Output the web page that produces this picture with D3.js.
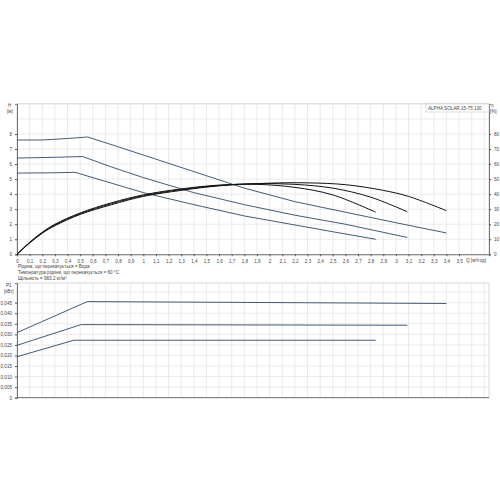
<!DOCTYPE html>
<html><head><meta charset="utf-8">
<script src="https://cdn.jsdelivr.net/npm/d3@7"></script>
<style>body{margin:0;background:#fff}text{font-family:"Liberation Sans",Arial,sans-serif;fill:#444}</style>
</head><body><svg id="c" width="500" height="500"></svg>
<script>
const qTicks = d3.range(0, 36).map(i => i / 10);
const hTicks = [0,1,2,3,4,5,6,7,8];
const etaTicks = [0,10,20,30,40,50,60,70,80];
const pTicks = [0,0.005,0.01,0.015,0.02,0.025,0.03,0.035,0.04,0.045];
const headQ1 = [0,0.2,0.4,0.56,0.8,1.0,1.4,1.8,2.2,2.6,3.0,3.4];
const headH1 = [7.6,7.6,7.7,7.8,7.15,6.6,5.5,4.4,3.5,2.8,2.1,1.42];
const headQ2 = [0,0.3,0.52,0.75,1.0,1.4,1.8,2.2,2.6,3.09];
const headH2 = [6.4,6.45,6.5,5.8,5.1,4.1,3.3,2.6,2.0,1.12];
const headQ3 = [0,0.3,0.46,0.8,1.0,1.4,1.8,2.2,2.5,2.84];
const headH3 = [5.4,5.42,5.45,4.6,4.1,3.3,2.55,1.95,1.5,1.0];
const etaQ1 = [0,0.1,0.2,0.3,0.5,0.75,1.0,1.3,1.6,2.0,2.3,2.6,2.9,3.1,3.4];
const eta1 = [0,7.5,14,19,26.5,33,38.5,42.5,45.5,47.3,47.5,46.3,42.5,38.5,29];
const etaQ2 = [0,0.1,0.2,0.3,0.5,0.75,1.0,1.3,1.6,1.9,2.2,2.5,2.8,3.09];
const eta2 = [0,7.7,14.3,19.5,27,33.7,39,43,45.8,47,46.5,44,38,28.3];
const etaQ3 = [0,0.1,0.2,0.3,0.5,0.75,1.0,1.3,1.6,1.9,2.2,2.5,2.84];
const eta3 = [0,8,14.7,20,27.5,34.3,39.5,43.5,46,46.5,44.5,39.5,28];
const pQ1 = [0,0.557,3.40], pP1 = [0.0308,0.0455,0.0446];
const pQ2 = [0,0.507,3.09], pP2 = [0.0248,0.0346,0.0343];
const pQ3 = [0,0.45,2.84], pP3 = [0.0194,0.0272,0.0272];
const infoLines = ["Рідина, що перекачується = Вода","Температура рідини, що перекачується = 60 °C","Щільність = 983.2 кг/м³"];
const title = "ALPHA SOLAR 15-75  130";

const svg = d3.select("#c");
const x = d3.scaleLinear().domain([0,3.737]).range([17,489]);
const yH = d3.scaleLinear().domain([0,10]).range([254.3,103.9]);
const yE = d3.scaleLinear().domain([0,100]).range([254.3,103.9]);
const yP = d3.scaleLinear().domain([0,0.0543]).range([397.7,283]);
const fmt = v => String(+v.toFixed(3)).replace(".", ",");
const blue = "#2c4a68";

function grid(yScale, yt, y0, y1){
  const g = svg.append("g");
  g.selectAll(".v").data(d3.range(1,38).map(i=>i/10)).enter().append("line")
   .attr("x1",d=>x(d)).attr("x2",d=>x(d)).attr("y1",y0).attr("y2",y1).attr("stroke","#ddd").attr("stroke-width",0.6);
  g.selectAll(".h").data(yt).enter().append("line")
   .attr("x1",17).attr("x2",489).attr("y1",d=>yScale(d)).attr("y2",d=>yScale(d)).attr("stroke","#ddd").attr("stroke-width",0.6);
  svg.append("rect").attr("x",17).attr("y",y0).attr("width",472).attr("height",y1-y0).attr("fill","none").attr("stroke","#bbb").attr("stroke-width",0.6);
}
grid(yH, [1,2,3,4,5,6,7,8,9], 103.9, 254.3);
grid(yP, pTicks.slice(1).concat([0.05]), 283, 397.7);

const ax = svg.append("g").attr("transform","translate(0,254.3)").call(d3.axisBottom(x).tickValues(qTicks).tickFormat(fmt).tickSize(2));
const axl = svg.append("g").attr("transform","translate(17,0)").call(d3.axisLeft(yH).tickValues(hTicks).tickSize(2));
const axr = svg.append("g").attr("transform","translate(489,0)").call(d3.axisRight(yE).tickValues(etaTicks).tickSize(2));
const axp = svg.append("g").attr("transform","translate(17,0)").call(d3.axisLeft(yP).tickValues(pTicks).tickFormat(d=>d===0?"0":d.toFixed(3).replace(".",",")).tickSize(2));
svg.append("line").attr("x1",17).attr("x2",489).attr("y1",397.7).attr("y2",397.7).attr("stroke","#555").attr("stroke-width",0.8);
[ax,axl,axr,axp].forEach(a=>{a.selectAll("text").style("font-size","4.6px").attr("fill","#555");a.select(".domain").attr("stroke","#555").attr("stroke-width",0.8);a.selectAll(".tick line").attr("stroke","#555");});
svg.append("text").attr("x",466).attr("y",262).style("font-size","4.6px").text("Q [м³/год]");
svg.append("text").attr("x",8).attr("y",107).style("font-size","4.6px").text("H");
svg.append("text").attr("x",7).attr("y",113).style("font-size","4.6px").text("[м]");
svg.append("text").attr("x",491).attr("y",107).style("font-size","4.6px").text("η");
svg.append("text").attr("x",490).attr("y",113).style("font-size","4.6px").text("[%]");
svg.append("text").attr("x",6).attr("y",287).style("font-size","4.6px").text("P1");
svg.append("text").attr("x",4).attr("y",293).style("font-size","4.6px").text("[кВт]");
svg.append("rect").attr("x",426).attr("y",104).attr("width",63).attr("height",8).attr("fill","#fff").attr("stroke","#bbb").attr("stroke-width",0.5);
svg.append("text").attr("x",428).attr("y",109.8).style("font-size","4.6px").text(title);
infoLines.forEach((t,i)=>svg.append("text").attr("x",18).attr("y",268+i*6).style("font-size","4.6px").text(t));

function curve(qs, vs, ys, color, w, cur){
  svg.append("path").datum(qs.map((q,i)=>[q,vs[i]]))
   .attr("d", d3.line().x(d=>x(d[0])).y(d=>ys(d[1])).curve(cur||d3.curveLinear))
   .attr("fill","none").attr("stroke",color).attr("stroke-width",w);
}
curve(headQ1, headH1, yH, blue, 0.9);
curve(headQ2, headH2, yH, blue, 0.9);
curve(headQ3, headH3, yH, blue, 0.9);
curve(etaQ1, eta1, yE, "#111", 1, d3.curveCatmullRom);
curve(etaQ2, eta2, yE, "#111", 1, d3.curveCatmullRom);
curve(etaQ3, eta3, yE, "#111", 1, d3.curveCatmullRom);
curve(pQ1, pP1, yP, blue, 0.9);
curve(pQ2, pP2, yP, blue, 0.9);
curve(pQ3, pP3, yP, blue, 0.9);
</script></body></html>
